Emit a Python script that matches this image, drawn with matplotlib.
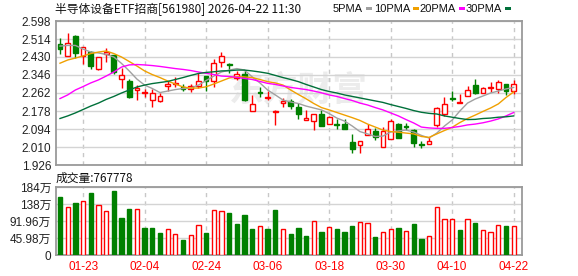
import numpy as np
import matplotlib
matplotlib.use('Agg')
import matplotlib.pyplot as plt
from matplotlib.patches import Rectangle

plt.rcParams['font.family'] = ['Liberation Sans', 'Noto Sans CJK SC', 'DejaVu Sans']

# trading days shown (60 sessions)
dates = ['01-20', '01-21', '01-22', '01-23', '01-26', '01-27', '01-28', '01-29', '01-30',
         '02-02', '02-03', '02-04', '02-05', '02-06', '02-09', '02-10', '02-11', '02-12', '02-13',
         '02-24', '02-25', '02-26', '02-27', '03-02', '03-03', '03-04', '03-05', '03-06',
         '03-09', '03-10', '03-11', '03-12', '03-13', '03-16', '03-17', '03-18', '03-19', '03-20',
         '03-23', '03-24', '03-25', '03-26', '03-27', '03-30', '03-31', '04-01', '04-02', '04-03',
         '04-07', '04-08', '04-09', '04-10', '04-13', '04-14', '04-15', '04-16', '04-17',
         '04-20', '04-21', '04-22']

opens = [2.491, 2.433, 2.528, 2.435, 2.455, 2.373, 2.443, 2.438, 2.326, 2.318,
         2.275, 2.264, 2.228, 2.226, 2.293, 2.305, 2.291, 2.282, 2.295, 2.341,
         2.318, 2.405, 2.396, 2.333, 2.349, 2.177, 2.265, 2.238, 2.175, 2.216,
         2.225, 2.195, 2.135, 2.133, 2.165, 2.119, 2.118, 2.116, 2.032, 2.021,
         2.065, 2.085, 2.009, 2.046, 2.117, 2.108, 2.089, 2.026, 2.022, 2.111,
         2.163, 2.237, 2.214, 2.247, 2.298, 2.263, 2.284, 2.279, 2.302, 2.270]
closes = [2.466, 2.494, 2.450, 2.475, 2.389, 2.429, 2.455, 2.361, 2.345, 2.245,
          2.287, 2.268, 2.261, 2.247, 2.305, 2.308, 2.282, 2.293, 2.317, 2.318,
          2.401, 2.435, 2.393, 2.351, 2.229, 2.209, 2.260, 2.243, 2.179, 2.225,
          2.201, 2.165, 2.145, 2.163, 2.109, 2.151, 2.111, 2.095, 2.001, 2.036,
          2.094, 2.057, 2.085, 2.131, 2.053, 2.102, 2.027, 2.019, 2.036, 2.190,
          2.209, 2.234, 2.221, 2.277, 2.263, 2.287, 2.289, 2.312, 2.273, 2.304]
highs = [2.517, 2.541, 2.533, 2.477, 2.458, 2.431, 2.471, 2.439, 2.380, 2.326,
         2.298, 2.279, 2.279, 2.263, 2.319, 2.335, 2.303, 2.304, 2.354, 2.343,
         2.419, 2.453, 2.401, 2.365, 2.369, 2.253, 2.291, 2.271, 2.181, 2.237,
         2.233, 2.214, 2.181, 2.165, 2.183, 2.156, 2.139, 2.139, 2.071, 2.039,
         2.116, 2.097, 2.102, 2.142, 2.123, 2.123, 2.093, 2.039, 2.055, 2.195,
         2.242, 2.271, 2.257, 2.296, 2.326, 2.290, 2.313, 2.321, 2.304, 2.321]
lows = [2.443, 2.433, 2.427, 2.396, 2.375, 2.371, 2.408, 2.349, 2.287, 2.240,
        2.229, 2.242, 2.195, 2.221, 2.273, 2.291, 2.270, 2.268, 2.284, 2.273,
        2.291, 2.385, 2.357, 2.323, 2.225, 2.176, 2.243, 2.229, 2.111, 2.195,
        2.187, 2.142, 2.134, 2.088, 2.109, 2.117, 2.095, 2.095, 1.983, 1.983,
        2.065, 2.044, 2.009, 2.046, 2.050, 2.089, 2.010, 2.007, 2.022, 2.102,
        2.156, 2.223, 2.214, 2.247, 2.257, 2.263, 2.268, 2.261, 2.251, 2.257]

ma5 = [2.481, 2.484, 2.484, 2.467, 2.453, 2.449, 2.442, 2.430, 2.400, 2.365,
       2.327, 2.299, 2.283, 2.264, 2.271, 2.278, 2.283, 2.285, 2.299, 2.320,
       2.341, 2.360, 2.369, 2.376, 2.369, 2.337, 2.309, 2.276, 2.253, 2.229,
       2.220, 2.213, 2.201, 2.192, 2.183, 2.166, 2.145, 2.131, 2.108, 2.082,
       2.071, 2.059, 2.061, 2.080, 2.085, 2.089, 2.080, 2.064, 2.052, 2.075,
       2.108, 2.136, 2.178, 2.215, 2.234, 2.248, 2.262, 2.271, 2.281, 2.288]
ma10 = [2.401, 2.416, 2.425, 2.435, 2.446, 2.453, 2.458, 2.446, 2.430, 2.409,
        2.388, 2.365, 2.348, 2.334, 2.318, 2.304, 2.290, 2.285, 2.285, 2.291,
        2.304, 2.318, 2.332, 2.338, 2.337, 2.334, 2.325, 2.315, 2.309, 2.299,
        2.276, 2.255, 2.235, 2.213, 2.194, 2.183, 2.171, 2.159, 2.147, 2.134,
        2.117, 2.103, 2.089, 2.082, 2.079, 2.075, 2.071, 2.059, 2.055, 2.071,
        2.087, 2.102, 2.124, 2.143, 2.159, 2.176, 2.192, 2.211, 2.241, 2.267]
ma20 = [2.236, 2.253, 2.276, 2.292, 2.309, 2.323, 2.341, 2.360, 2.383, 2.393,
        2.395, 2.393, 2.390, 2.386, 2.381, 2.376, 2.372, 2.367, 2.360, 2.354,
        2.348, 2.341, 2.339, 2.335, 2.330, 2.325, 2.316, 2.307, 2.302, 2.295,
        2.288, 2.283, 2.278, 2.271, 2.263, 2.253, 2.246, 2.236, 2.227, 2.215,
        2.206, 2.194, 2.183, 2.169, 2.155, 2.138, 2.122, 2.103, 2.099, 2.097,
        2.097, 2.101, 2.106, 2.113, 2.117, 2.123, 2.131, 2.141, 2.155, 2.171]
ma30 = [2.143, 2.155, 2.169, 2.185, 2.201, 2.215, 2.232, 2.246, 2.262, 2.276,
        2.290, 2.299, 2.306, 2.311, 2.316, 2.325, 2.334, 2.344, 2.353, 2.358,
        2.361, 2.365, 2.366, 2.369, 2.369, 2.365, 2.360, 2.354, 2.344, 2.334,
        2.325, 2.315, 2.302, 2.290, 2.278, 2.269, 2.262, 2.253, 2.246, 2.239,
        2.232, 2.225, 2.218, 2.208, 2.199, 2.190, 2.180, 2.172, 2.167, 2.164,
        2.155, 2.149, 2.143, 2.138, 2.139, 2.143, 2.145, 2.149, 2.151, 2.155]

# volume in 万 (10k)
volumes = [157, 129, 141, 145, 168, 134, 119, 173, 100, 124.5,
           124.5, 73, 73, 59.5, 69.5, 56, 40.6, 53.3, 80.4, 59.5,
           121, 118, 113.7, 83.9, 108, 70.4, 77.7, 70.4, 121.8, 70.4,
           56.8, 73, 51.4, 91.2, 62.2, 75, 70.4, 62.2, 78.5, 88.5,
           85.8, 48.7, 61.4, 69.5, 73, 64.1, 83, 43.3, 50.6, 129,
           96.6, 96.6, 66.8, 96.6, 86.6, 66.8, 61.4, 80.4, 77.7, 77.7]
vol_colors = 'GRGRGRRGGGRGGGRRGRRGRRGGGGRGGRGGGRGRGGGRRGRRGRGGRRRRGRGRRRGR'

price_ticks = [1.926, 2.010, 2.094, 2.178, 2.262, 2.346, 2.430, 2.514, 2.598]
vol_ticks = [0, 45.98, 91.96, 138, 184]
vol_labels = ['0', '45.98万', '91.96万', '138万', '184万']
last_volume = '767778'
ma_names = ['5PMA', '10PMA', '20PMA', '30PMA']

RED = '#ff0000'
GREEN = '#008000'
FRAME = '#9a9a9a'
ma_colors = ['#a0a0a0', '#f0a000', '#ff00ff', '#00703a']

W, H = 578, 276
fig = plt.figure(figsize=(W / 100, H / 100), dpi=100)
ax = fig.add_axes([56 / W, 1 - 165 / H, 466 / W, 144 / H])
axv = fig.add_axes([56 / W, 1 - 255 / H, 466 / W, 68 / H])

x = np.arange(len(dates))
tick_idx = list(range(3, len(dates), 8))

for a in (ax, axv):
    a.set_xlim(-0.52, len(dates) + 0.08)
    a.set_xticks(tick_idx)
    a.xaxis.grid(True, color='#c8c8c8', ls=(0, (3, 3)), lw=1)
    a.yaxis.grid(True, color='#d4d4d4', lw=1)
    a.set_axisbelow(True)
    for s in a.spines.values():
        s.set_color(FRAME)
        s.set_linewidth(1.3)
    a.tick_params(length=0, labelsize=8.5, colors='#222222')

# watermark
ax.text(0.52, 0.52, '东方财富', transform=ax.transAxes, ha='center', va='center',
        fontsize=25, fontweight='bold', color='#ececec', family=['Noto Sans CJK SC'],
        zorder=0)

# candles
for i in x:
    o, c, h, l = opens[i], closes[i], highs[i], lows[i]
    up = c >= o
    col = RED if up else GREEN
    ax.vlines(i, l, h, color=col, lw=1, zorder=2)
    ax.bar(i, max(abs(c - o), 0.0008), bottom=min(o, c), width=0.62,
           facecolor='white' if up else GREEN, edgecolor=col, lw=1, zorder=3)

for vals, col in zip([ma5, ma10, ma20, ma30], ma_colors):
    ax.plot(x, vals, color=col, lw=1, zorder=4)

ax.set_ylim(price_ticks[0], price_ticks[-1])
ax.set_yticks(price_ticks, [f'{v:.3f}' for v in price_ticks])
ax.set_xticklabels([])

# volume
for i in x:
    up = vol_colors[i] == 'R'
    axv.bar(i, volumes[i], width=0.56, facecolor='white' if up else GREEN,
            edgecolor=RED if up else GREEN, lw=1, zorder=3)
axv.set_ylim(0, 184)
axv.set_yticks(vol_ticks, vol_labels)
axv.set_xticklabels([dates[i] for i in tick_idx], color=RED, fontsize=8.5)
axv.tick_params(axis='x', pad=4)

# header texts
fig.text(55 / W, 1 - 9 / H, '半导体设备ETF招商[561980] 2026-04-22 11:30', ha='left', va='center',
         fontsize=8.5, family=['Noto Sans CJK SC'], color='#111111')
text_ends = [363, 410, 456, 502]
for name, tx, col in zip(ma_names, text_ends, ma_colors):
    fig.text(tx / W, 1 - 9 / H, name, ha='right', va='center', fontsize=8, color='#111111')
    fig.patches.append(Rectangle(((tx + 3) / W, 1 - 10 / H), 6 / W, 3 / H,
                                 transform=fig.transFigure, facecolor=col, edgecolor='none'))
fig.text(56 / W, 1 - 178 / H, '成交量:' + last_volume, ha='left', va='center',
         fontsize=8.5, family=['Noto Sans CJK SC', 'DejaVu Sans'], color='#111111')

fig.savefig('out.png', dpi=100)
